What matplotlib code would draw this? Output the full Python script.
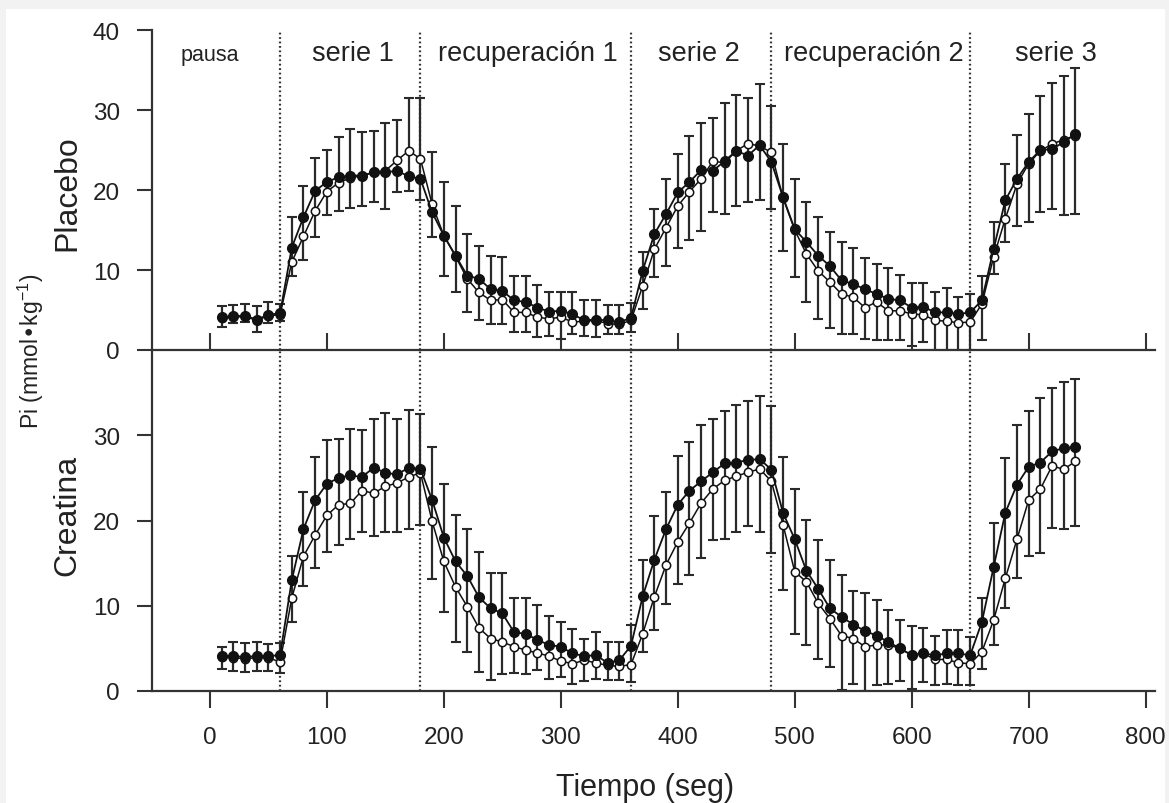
import numpy as np
import matplotlib
matplotlib.use("Agg")
import matplotlib.pyplot as plt
from matplotlib.patches import Rectangle

plt.rcParams['font.family'] = ['Liberation Sans', 'DejaVu Sans']
plt.rcParams['mathtext.default'] = 'regular'

# tiempo de cada medida (seg)
tiempo = np.arange(10, 741, 10)

# Placebo: circulos llenos / abiertos, extremos de las barras de error
pla_fill = [4.1, 4.2, 4.3, 3.8, 4.4, 4.6,
            12.8, 16.6, 19.9, 21.0, 21.6, 21.8, 21.8, 22.2, 22.2, 22.4, 21.7, 21.4,
            17.2, 14.3, 11.8, 9.3, 8.9, 7.6, 7.4, 6.2, 6.0, 5.3, 4.8, 4.9, 4.5, 3.7, 3.8, 3.7, 3.5, 4.0,
            9.9, 14.5, 17.0, 19.7, 21.0, 22.5, 22.4, 23.6, 24.9, 24.3, 25.6, 23.5,
            19.1, 15.1, 13.5, 11.8, 10.5, 8.7, 8.25, 7.6, 7.0, 6.4, 6.2, 5.3, 5.4, 4.7, 4.7, 4.5, 4.7,
            6.2, 12.6, 18.7, 21.4, 23.5, 25.0, 25.1, 26.0, 27.0]
pla_open = [4.0, 4.1, 4.2, 3.7, 4.3, 4.4,
            11.0, 14.2, 17.4, 19.8, 20.9, 21.5, 21.8, 22.2, 22.4, 23.7, 24.9, 23.9,
            18.2, 14.3, 11.7, 8.9, 7.2, 6.2, 6.3, 4.7, 4.7, 4.1, 3.9, 4.1, 3.5, 3.6, 3.7, 3.3, 3.2, 3.7,
            8.0, 12.6, 15.3, 18.0, 19.8, 21.4, 23.6, 23.4, 24.9, 25.8, 25.5, 24.7,
            19.0, 15.0, 12.0, 9.9, 8.5, 7.0, 6.6, 5.3, 6.0, 4.9, 4.9, 4.5, 4.4, 3.7, 3.6, 3.4, 3.5,
            5.75, 11.6, 16.4, 20.75, 23.3, 24.9, 25.75, 26.3, 26.8]
pla_sup = [5.5, 5.6, 5.7, 5.5, 6.0, 5.8,
           16.6, 20.5, 24.0, 25.0, 26.6, 27.6, 27.3, 27.4, 28.4, 28.8, 31.5, 31.5,
           24.7, 21.0, 18.0, 14.5, 13.0, 11.8, 11.6, 9.3, 9.2, 8.1, 7.2, 7.2, 7.3, 6.2, 6.2, 5.6, 5.6, 5.9,
           12.2, 17.6, 21.4, 24.5, 26.8, 28.4, 29.0, 30.9, 31.9, 31.5, 33.3, 30.5,
           25.7, 21.4, 18.5, 16.6, 14.7, 13.5, 12.7, 11.5, 10.75, 10.2, 9.4, 8.4, 8.4, 7.2, 7.8, 6.6, 7.0,
           9.3, 16.0, 23.25, 26.9, 29.5, 31.7, 33.4, 34.2, 35.3]
pla_inf = [2.9, 3.4, 3.5, 2.2, 3.4, 3.6,
           9.3, 11.2, 14.1, 16.9, 17.4, 17.8, 18.0, 18.5, 17.6, 19.8, 19.9, 18.7,
           14.1, 9.3, 7.2, 4.7, 3.7, 3.3, 3.3, 2.2, 2.2, 1.6, 1.8, 1.4, 2.0, 1.8, 1.6, 2.0, 2.0, 2.2,
           5.1, 9.1, 10.5, 12.8, 13.8, 14.9, 17.2, 17.0, 18.0, 18.5, 18.7, 17.6,
           12.4, 9.1, 6.0, 3.9, 2.8, 2.0, 2.0, 1.4, 1.2, 1.2, 1.2, 0.5, 1.0, 0.0, 0.0, 0.0, 0.0,
           1.2, 9.5, 13.5, 15.5, 16.0, 17.3, 17.6, 16.9, 17.0]

# Creatina
cre_fill = [4.1, 4.1, 4.0, 4.1, 4.1, 4.2,
            13.0, 19.0, 22.4, 24.3, 25.0, 25.3, 25.1, 26.2, 25.6, 25.4, 26.2, 26.05,
            22.4, 18.0, 15.2, 13.5, 11.0, 9.7, 9.1, 6.9, 6.7, 6.0, 5.4, 5.2, 4.4, 4.1, 4.2, 3.3, 3.6, 5.3,
            11.1, 15.4, 19.0, 21.85, 23.5, 24.6, 25.65, 26.7, 26.8, 27.1, 27.2, 25.97,
            20.9, 17.8, 14.1, 12.0, 9.7, 8.7, 7.8, 7.05, 6.5, 5.75, 5.0, 4.2, 4.4, 4.2, 4.4, 4.4, 4.2,
            8.1, 14.5, 20.9, 24.2, 26.3, 26.8, 28.1, 28.5, 28.6]
cre_open = [4.0, 3.9, 3.8, 3.9, 3.9, 3.4,
            10.9, 15.8, 18.3, 20.6, 21.85, 22.0, 23.5, 23.2, 24.0, 24.4, 25.1, 25.6,
            19.9, 15.2, 12.2, 9.9, 7.4, 6.15, 5.75, 5.2, 4.8, 4.45, 4.1, 3.5, 3.2, 3.6, 3.3, 3.0, 2.9, 3.1,
            6.7, 11.05, 14.8, 17.5, 19.7, 22.05, 23.7, 24.7, 25.2, 25.65, 26.05, 24.6,
            19.5, 14.0, 12.8, 10.3, 8.5, 6.5, 6.15, 5.2, 5.4, 5.4, 5.0, 4.2, 4.4, 3.7, 3.7, 3.3, 3.2,
            4.6, 8.3, 13.2, 17.8, 22.4, 23.7, 26.4, 26.0, 26.95]
cre_sup = [5.2, 5.8, 5.6, 5.8, 5.5, 5.6,
           15.85, 23.4, 27.5, 29.5, 29.6, 30.7, 30.6, 31.9, 32.6, 31.9, 33.0, 32.45,
           28.6, 24.3, 20.6, 19.0, 16.35, 13.8, 13.8, 10.9, 10.9, 10.1, 8.8, 8.1, 7.3, 6.15, 6.9, 5.75, 5.75, 7.8,
           15.4, 20.5, 23.4, 27.6, 29.2, 31.15, 31.9, 32.8, 33.6, 34.0, 34.6, 33.4,
           27.5, 23.7, 20.1, 17.7, 15.4, 13.6, 11.75, 11.45, 10.65, 9.5, 8.3, 7.6, 7.4, 6.5, 7.1, 7.1, 6.35,
           10.9, 19.7, 27.35, 31.15, 32.8, 34.4, 35.6, 36.25, 36.6]
cre_inf = [2.6, 2.4, 2.2, 2.4, 2.3, 2.1,
           8.1, 12.3, 14.4, 16.35, 17.1, 17.8, 18.6, 18.2, 18.7, 18.6, 19.0, 19.5,
           13.1, 9.3, 5.75, 4.6, 2.2, 1.3, 2.0, 2.1, 2.0, 2.5, 1.4, 1.6, 0.85, 1.2, 1.4, 1.3, 1.3, 1.1,
           4.6, 7.2, 10.2, 12.6, 13.6, 15.6, 17.7, 17.8, 18.6, 19.3, 18.7, 16.2,
           11.8, 6.7, 5.4, 3.7, 2.8, 0.1, 0.85, 0.0, 0.65, 0.85, 1.2, 0.25, 1.0, 0.75, 0.85, 0.65, 0.65,
           2.6, 5.4, 9.7, 13.2, 15.85, 16.2, 19.1, 19.0, 19.3]

fases = [0, 60, 180, 360, 480, 650]
fase_txt = ['pausa', 'serie 1', 'recuperación 1', 'serie 2', 'recuperación 2', 'serie 3']
fase_x = [0, 122, 272, 418, 568, 723]

ink = '#222222'
W, H = 1169, 804
fig = plt.figure(figsize=(W / 100, H / 100), dpi=100, facecolor='#f2f2f2')
fig.patches.append(Rectangle((6 / W, 0), (1165 - 6) / W, (H - 10) / H,
                             transform=fig.transFigure, facecolor='white',
                             edgecolor='none', zorder=-1))

left, width = 152 / W, (1155 - 152) / W
ax1 = fig.add_axes([left, (H - 351) / H, width, (351 - 31) / H])
ax2 = fig.add_axes([left, (H - 692) / H, width, (692 - 351) / H])


def panel(ax, fill, opn, sup, inf):
    fill = np.array(fill)
    lo = np.clip(fill - np.array(inf), 0, None)
    hi = np.clip(np.array(sup) - fill, 0, None)
    ax.errorbar(tiempo, fill, yerr=[lo, hi], fmt='none', ecolor='#2a2a2a',
                elinewidth=1.6, capsize=3.5, capthick=1.5, zorder=2)
    ax.plot(tiempo, opn, '-o', color='#111111', lw=1.1, ms=6, mfc='white',
            mec='#111111', mew=1.1, zorder=3)
    ax.plot(tiempo, fill, '-o', color='#111111', lw=1.3, ms=7, mfc='#111111',
            mec='#111111', zorder=4)
    for f in fases[1:]:
        ax.axvline(f, color='#333333', lw=1.6, ls=(0, (0.8, 1.2)), zorder=1)
    ax.set_xlim(-49.5, 808)
    ax.set_ylim(0, 40)
    ax.set_xticks(range(0, 801, 100))
    for s in ['top', 'right']:
        ax.spines[s].set_visible(False)
    for s in ['left', 'bottom']:
        ax.spines[s].set_color('#333333')
        ax.spines[s].set_linewidth(1.6)
    ax.tick_params(axis='y', direction='out', length=11, width=1.5, pad=12,
                   labelsize=17.5, colors='#333333', labelcolor=ink)
    ax.set_facecolor('none')


panel(ax1, pla_fill, pla_open, pla_sup, pla_inf)
panel(ax2, cre_fill, cre_open, cre_sup, cre_inf)

ax1.set_yticks([0, 10, 20, 30, 40])
ax2.set_yticks([0, 10, 20, 30])
ax1.tick_params(axis='x', direction='in', length=12, width=1.5,
                labelbottom=False, colors='#333333')
ax2.tick_params(axis='x', direction='out', length=12, width=1.5, pad=13,
                labelsize=17.5, colors='#333333', labelcolor=ink)

for txt, x in zip(fase_txt, fase_x):
    ax1.text(x, 36.3, txt, ha='center', va='baseline', color=ink,
             fontsize=15.5 if txt == 'pausa' else 19.5)

fig.text(67 / W, 1 - 193 / H, 'Placebo', rotation=90, ha='center', va='center',
         fontsize=23, color=ink)
fig.text(67 / W, 1 - 515 / H, 'Creatina', rotation=90, ha='center', va='center',
         fontsize=23, color=ink)
fig.text(31 / W, 1 - 351 / H, 'Pi (mmol•kg$^{-1}$)', rotation=90, ha='center',
         va='center', fontsize=16.5, color=ink)
fig.text(645 / W, 1 / H, 'Tiempo (seg)', ha='center', va='bottom',
         fontsize=22, color=ink)

fig.savefig('out.png', dpi=100, facecolor=fig.get_facecolor())
